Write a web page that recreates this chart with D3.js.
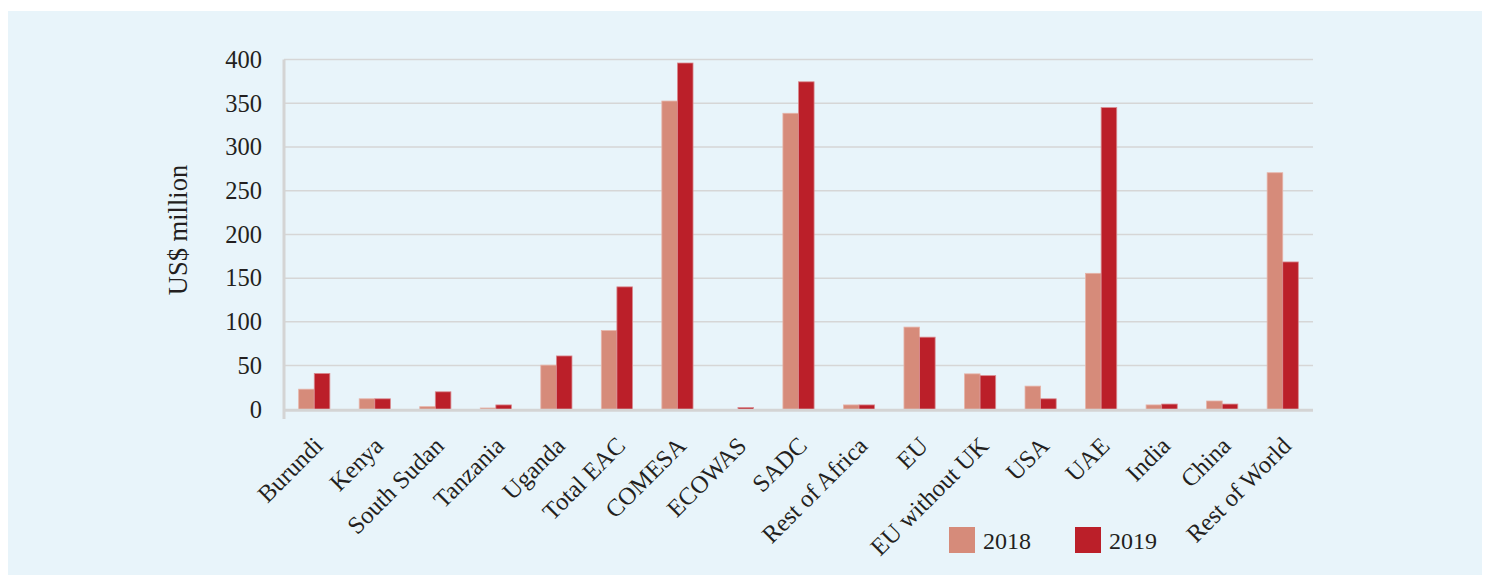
<!DOCTYPE html>
<html><head><meta charset="utf-8">
<script src="https://cdn.jsdelivr.net/npm/d3@7"></script>
<style>
html,body{margin:0;padding:0;background:#fff;}
svg{display:block;}
text{font-family:"Liberation Serif","DejaVu Serif",serif;fill:#231f20;}
</style></head>
<body>
<script>
const categories = ["Burundi","Kenya","South Sudan","Tanzania","Uganda","Total EAC","COMESA","ECOWAS","SADC","Rest of Africa","EU","EU without UK","USA","UAE","India","China","Rest of World"];
const values2018 = [23,12,3,1.5,50.5,90,352.5,0,338.5,5,94,40.5,26.5,155.5,5,9.5,270.5];
const values2019 = [41,12,20,5,61,140,396,2,374.5,5,82.5,38.5,12,345,6,6,168.5];
const seriesNames = ["2018","2019"];
const seriesColors = ["#d68b7a","#bb1f29"];
const yTicks = [0,50,100,150,200,250,300,350,400];

const W = 1489, H = 575;
const svg = d3.select("body").append("svg").attr("width", W).attr("height", H);
svg.append("rect").attr("x",8).attr("y",11).attr("width",1474).attr("height",H-11).attr("fill","#e8f4fa");

const x0 = 284, x1 = 1313, yTop = 59.5, yBot = 409.3;
const x = d3.scaleBand().domain(categories).range([x0, x1]).paddingInner(0.485).paddingOuter(0.2425);
const xs = d3.scaleBand().domain(seriesNames).range([0, x.bandwidth()]);
const y = d3.scaleLinear().domain([0,400]).range([yBot, yTop]);

// gridlines
svg.append("g").selectAll("line").data(yTicks.filter(d=>d>0)).join("line")
  .attr("x1", x0).attr("x2", x1).attr("y1", d=>y(d)).attr("y2", d=>y(d))
  .attr("stroke","#d6d6d6").attr("stroke-width",1.5);

// y axis labels
const yAxis = d3.axisLeft(y).tickValues(yTicks).tickSize(0).tickPadding(22);
const gy = svg.append("g").attr("transform",`translate(${x0},0)`).call(yAxis);
gy.select(".domain").remove();
gy.selectAll("text").attr("font-size","24.5px").attr("fill","#231f20").attr("dy","0.32em")
  .style("font-family",'"Liberation Serif","DejaVu Serif",serif');

// bars
const data = categories.map((c,i)=>({c, v:[values2018[i], values2019[i]]}));
const groups = svg.append("g").selectAll("g").data(data).join("g")
  .attr("transform", d=>`translate(${x(d.c)},0)`);
groups.selectAll("rect").data(d=>d.v.map((v,j)=>({k:seriesNames[j], v, j}))).join("rect")
  .attr("x", d=>xs(d.k)).attr("width", xs.bandwidth())
  .attr("y", d=>y(d.v)).attr("height", d=>yBot - y(d.v))
  .attr("fill", d=>seriesColors[d.j])
  .attr("stroke", d=>d.j===0?"#e6b3a8":"#d98a8f").attr("stroke-width",0.8);

// axis lines
svg.append("line").attr("x1",x0).attr("x2",x1).attr("y1",yBot+1).attr("y2",yBot+1)
  .attr("stroke","#d4d4d4").attr("stroke-width",3);
svg.append("line").attr("x1",x0).attr("x2",x0).attr("y1",yTop).attr("y2",419)
  .attr("stroke","#d4d4d4").attr("stroke-width",3);

// x axis labels
const xAxis = d3.axisBottom(x).tickSize(0);
const gx = svg.append("g").attr("transform",`translate(0,${yBot})`).call(xAxis);
gx.select(".domain").remove();
gx.selectAll("text")
  .attr("font-size","24.5px").attr("fill","#231f20")
  .style("font-family",'"Liberation Serif","DejaVu Serif",serif')
  .attr("text-anchor","end").attr("dy",null).attr("y",0)
  .attr("transform","translate(10,38) rotate(-45)");

// y title
svg.append("text").attr("transform","translate(187,230) rotate(-90)")
  .attr("text-anchor","middle").attr("font-size","26.5px").text("US$ million");

// legend
const lg = svg.append("g");
const legX = [949, 1075];
seriesNames.forEach((s,i)=>{
  lg.append("rect").attr("x",legX[i]).attr("y",527).attr("width",26).attr("height",26).attr("fill",seriesColors[i]);
  lg.append("text").attr("x",legX[i]+34).attr("y",549).attr("font-size","24px").text(s);
});
</script>
</body></html>
